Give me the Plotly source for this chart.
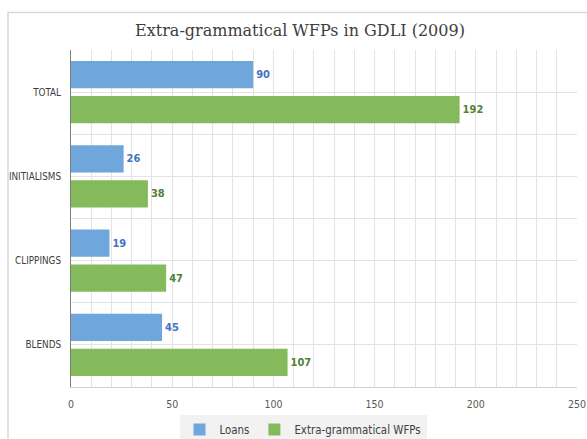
import plotly.graph_objects as go

categories = ["TOTAL", "INITIALISMS", "CLIPPINGS", "BLENDS"]
loans = [90, 26, 19, 45]
extra = [192, 38, 47, 107]
series_names = ["Loans", "Extra-grammatical WFPs"]
x_ticks = [0, 50, 100, 150, 200, 250]

pos = list(range(len(categories)))
lab_font = "DejaVu Sans Condensed, Liberation Sans Narrow, Liberation Sans, Arial, sans-serif"

fig = go.Figure()
fig.add_trace(go.Bar(
    y=pos, x=loans, orientation="h", name=series_names[0],
    marker=dict(color="#6FA6DB", line=dict(width=0)),
    text=loans, textposition="outside", cliponaxis=False, constraintext="none",
    textfont=dict(family=lab_font, size=11, color="#4472C4", weight="bold"),
))
fig.add_trace(go.Bar(
    y=pos, x=extra, orientation="h", name=series_names[1],
    marker=dict(color="#84BA5C", line=dict(width=0)),
    text=extra, textposition="outside", cliponaxis=False, constraintext="none",
    textfont=dict(family=lab_font, size=11, color="#538135", weight="bold"),
))

W, H = 587, 439
ml, mr, mt, mb = 71, 10, 50, 52
pw, ph = W - ml - mr, H - mt - mb

fig.update_layout(
    width=W, height=H,
    margin=dict(l=ml, r=mr, t=mt, b=mb, pad=0, autoexpand=False),
    paper_bgcolor="white", plot_bgcolor="white",
    barmode="group", bargap=0.17, bargroupgap=0.22,
    title=dict(text="Extra-grammatical WFPs in GDLI (2009)",
               x=(300 - ml) / pw, xref="paper", xanchor="center",
               y=1 - 30 / H, yanchor="middle",
               font=dict(family="DejaVu Serif, serif", size=16, color="#404040")),
    showlegend=True,
    legend=dict(orientation="h", x=(303 - ml) / pw, xanchor="center",
                y=-(415 - (mt + ph)) / ph, yanchor="top",
                bgcolor="#F2F2F2", traceorder="normal",
                font=dict(family=lab_font, size=11.4, color="#404040"),
                itemsizing="constant", itemwidth=30),
    xaxis=dict(range=[0, 250], tickvals=x_ticks, showgrid=True, automargin=False,
               gridcolor="#E3E3E3", gridwidth=1,
               minor=dict(dtick=10, tick0=0, showgrid=True, gridcolor="#E3E3E3"),
               showline=True, linecolor="#D0D0D0", zeroline=False,
               ticks="", ticklabelstandoff=7, ticklabeloverflow="allow",
               tickfont=dict(family=lab_font, size=10.5, color="#595959")),
    yaxis=dict(range=[3.5, -0.5], tickvals=pos, ticktext=categories,
               showgrid=True, gridcolor="#E3E3E3", automargin=False,
               minor=dict(tickmode="linear", tick0=0.5, dtick=1, showgrid=True,
                          gridcolor="#E3E3E3"),
               showline=True, linecolor="#7F7F7F", linewidth=1, zeroline=False,
               ticks="", ticklabelstandoff=7,
               tickfont=dict(family=lab_font, size=9.8, color="#404040")),
    shapes=[dict(type="rect", xref="paper", yref="paper",
                 x0=(8 - ml) / pw, x1=(600 - ml) / pw,
                 y0=-(460 - (mt + ph)) / ph, y1=1 + (mt - 12.5) / ph,
                 line=dict(color="#D9D9D9", width=1.5), fillcolor="rgba(0,0,0,0)",
                 layer="below")],
)

fig.write_html("out.html")
